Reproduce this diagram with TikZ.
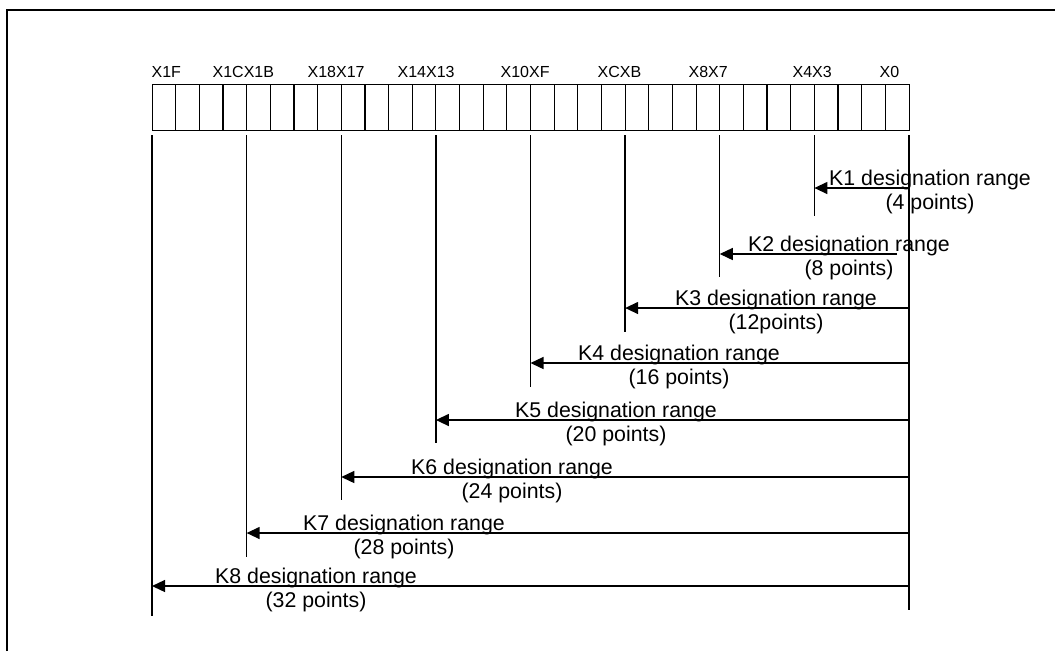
\documentclass[tikz,border=0pt]{standalone}
\usepackage{fontspec}
\setmainfont{Liberation Sans}
\usetikzlibrary{arrows.meta}

\begin{document}
\begin{tikzpicture}[x=0.75pt,y=-0.75pt,line width=1pt,bit/.style={anchor=base west,inner sep=0pt,font=\fontsize{12}{14}\selectfont},rangelbl/.style={align=center,inner sep=0pt,font=\fontsize{16}{17.6}\selectfont},arrow/.style={-{Triangle[length=9.75pt,width=9pt]},line width=1pt}]
\useasboundingbox (0,0) rectangle (1055,651);
\draw (7,651) |- (1055,10);
% 32-bit register X1F ... X0
\node[draw,anchor=north west,minimum width=567.75pt,minimum height=34.5pt,inner sep=0pt] (reg) at (152,84) {};
\foreach \i in {1,...,31} \draw[line width=0.9pt] ([xshift=\i*17.742pt]reg.north west) -- ([xshift=\i*17.742pt]reg.south west);
\foreach \t/\x in {X1F/151,X1CX1B/212,X18X17/307,X14X13/397,X10XF/500,XCXB/597,X8X7/688,X4X3/792,X0/879} \node[bit] (\t) at (\x,77) {\t};
% boundary lines every 4 bits
\foreach \k/\e in {0/610,4/216,8/277,12/332,16/387,20/443,24/500,28/557,32/616} \draw (909-\k*23.656,135) coordinate (v\k) -- (909-\k*23.656,\e);
% designation ranges
\foreach \n/\k/\ya/\dx/\cx/\p in {1/4/188/0pt/930/4 points,2/8/254/-9pt/849/8 points,3/12/308/0pt/776/12points,4/16/363/0pt/679/16 points,5/20/420/0pt/616/20 points,6/24/477/0pt/512/24 points,7/28/533/0pt/404/28 points,8/32/586/0pt/316/32 points}{
\node[rangelbl] (k\n) at (\cx,\ya+3.75) {K\n\ designation range\\(\p)};
\draw[arrow] ([xshift=\dx]v0 |- 0,\ya) -- (v\k |- 0,\ya);}
\end{tikzpicture}
\end{document}
